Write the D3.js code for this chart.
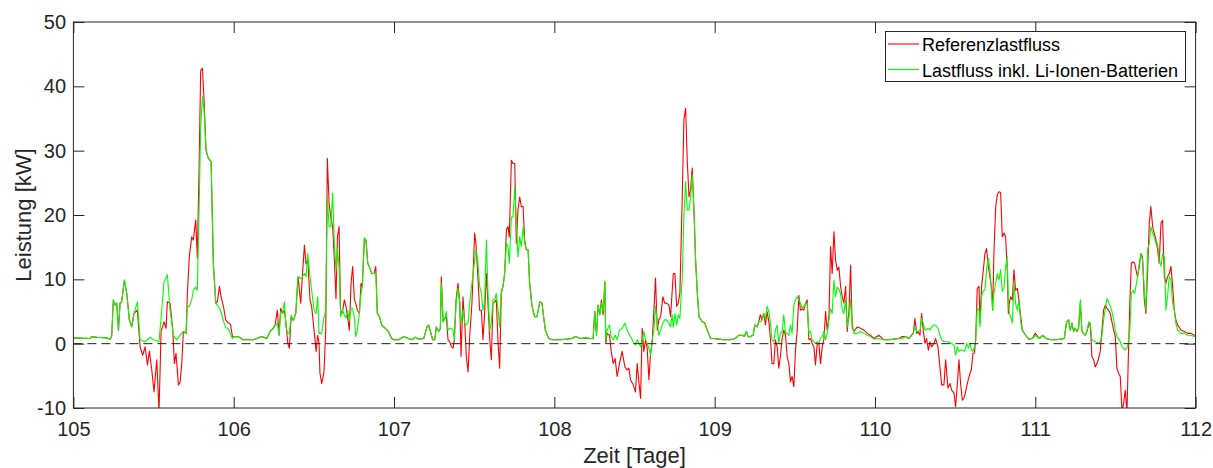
<!DOCTYPE html>
<html>
<head>
<meta charset="utf-8">
<script src="https://cdn.jsdelivr.net/npm/d3@7"></script>
<style>
  body { margin: 0; background: #fff; }
  svg { display: block; font-family: "Liberation Sans", Arial, sans-serif; }
  .axis text { fill: #262626; }
  .axis line { stroke: #262626; }
</style>
</head>
<body>
<svg id="chart" width="1213" height="468"></svg>
<script>
// Zeit in Tagen, Leistung in kW
const referenz = [
  [105.000,0.9],[105.104,0.8],[105.114,1.1],[105.146,1.0],[105.208,0.9],[105.229,0.7],[105.239,1.2],[105.249,6.8],[105.260,6.0],[105.270,6.3],
  [105.281,2.1],[105.291,6.3],[105.301,6.5],[105.318,9.9],[105.333,7.8],[105.349,3.7],[105.364,2.6],[105.378,4.7],[105.399,5.2],[105.416,-0.5],
  [105.432,-1.8],[105.447,-0.5],[105.462,-3.3],[105.474,-1.2],[105.489,-4.1],[105.503,-7.5],[105.520,-2.5],[105.534,-10.5],[105.547,1.9],[105.565,3.4],
  [105.578,2.4],[105.586,6.5],[105.603,6.3],[105.620,2.1],[105.630,-3.1],[105.640,-1.5],[105.655,-6.4],[105.665,-6.1],[105.676,-3.1],[105.686,1.9],
  [105.703,1.6],[105.711,7.8],[105.723,13.5],[105.738,16.6],[105.748,16.1],[105.763,19.2],[105.773,13.3],[105.784,27.5],[105.794,42.5],[105.805,42.8],
  [105.815,37.9],[105.827,30.1],[105.842,28.8],[105.859,28.3],[105.873,12.5],[105.888,6.3],[105.898,6.5],[105.911,8.9],[105.921,7.3],[105.936,5.8],
  [105.950,3.7],[105.967,3.2],[105.980,3.0],[105.992,1.1],[106.000,1.1],
  [106.029,1.1],[106.060,0.6],[106.123,0.6],[106.175,1.1],[106.206,0.8],[106.227,1.9],[106.247,2.4],[106.258,2.9],[106.272,5.2],[106.283,1.3],
  [106.293,5.5],[106.304,4.7],[106.316,5.2],[106.326,3.2],[106.337,0.1],[106.347,-0.7],[106.358,4.2],[106.372,3.6],[106.387,4.7],[106.401,10.4],
  [106.418,6.3],[106.428,10.4],[106.441,15.3],[106.451,12.4],[106.462,13.0],[106.476,6.8],[106.486,5.8],[106.501,2.1],[106.514,-1.2],[106.524,1.3],
  [106.532,0.1],[106.538,-4.6],[106.549,-6.2],[106.563,-4.4],[106.574,2.1],[106.584,28.8],[106.595,21.8],[106.605,19.7],[106.617,18.2],[106.628,13.0],
  [106.638,7.0],[106.647,16.6],[106.657,18.2],[106.667,4.7],[106.680,5.2],[106.690,6.8],[106.701,5.7],[106.711,4.0],[106.721,2.1],[106.732,9.4],
  [106.742,12.0],[106.753,6.8],[106.761,6.3],[106.771,5.2],[106.784,4.7],[106.794,9.4],[106.802,8.8],[106.815,16.4],[106.825,16.1],[106.836,12.5],
  [106.850,11.7],[106.861,10.9],[106.875,10.9],[106.886,12.0],[106.896,4.7],[106.909,4.2],[106.923,2.9],[106.944,2.4],[106.965,1.9],[106.985,0.8],
  [107.000,0.6],
  [107.029,0.6],[107.060,1.1],[107.091,0.8],[107.112,0.6],[107.133,1.0],[107.154,0.7],[107.185,0.8],[107.206,2.6],[107.216,2.9],[107.227,1.9],
  [107.241,0.6],[107.254,0.6],[107.264,2.6],[107.279,1.9],[107.289,2.4],[107.295,10.4],[107.306,3.4],[107.316,3.9],[107.326,4.2],[107.337,0.6],
  [107.347,0.3],[107.358,-0.5],[107.368,-0.7],[107.376,0.6],[107.387,6.8],[107.399,9.4],[107.410,6.3],[107.418,-2.0],[107.430,7.3],[107.441,3.2],
  [107.451,-2.0],[107.462,-4.4],[107.472,1.1],[107.486,6.3],[107.503,17.2],[107.511,15.6],[107.522,10.9],[107.534,5.2],[107.545,5.2],[107.555,0.6],
  [107.565,4.7],[107.576,10.9],[107.586,6.3],[107.597,0.6],[107.607,-2.5],[107.617,6.3],[107.628,6.5],[107.638,6.8],[107.649,0.1],[107.659,-3.8],
  [107.669,7.8],[107.680,8.9],[107.690,10.9],[107.701,17.7],[107.711,18.2],[107.719,16.6],[107.732,28.5],[107.742,28.0],[107.753,28.0],[107.763,15.6],
  [107.773,20.8],[107.784,22.8],[107.794,21.3],[107.805,21.3],[107.815,16.1],[107.825,14.6],[107.836,14.6],[107.846,9.4],[107.861,5.8],[107.877,4.2],
  [107.892,4.2],[107.909,6.5],[107.923,6.3],[107.933,4.2],[107.944,2.1],[107.965,0.8],[107.985,0.6],[108.000,0.6],
  [108.038,0.6],[108.079,0.7],[108.110,0.8],[108.131,1.1],[108.163,0.8],[108.194,0.9],[108.225,0.8],[108.242,0.8],[108.252,5.0],[108.263,1.3],
  [108.273,6.0],[108.283,4.5],[108.294,6.8],[108.304,4.5],[108.315,9.6],[108.321,0.05],[108.329,1.6],[108.344,1.3],[108.354,-1.0],[108.367,-3.1],
  [108.379,-2.3],[108.392,-5.1],[108.406,-3.1],[108.423,-1.2],[108.440,-3.6],[108.454,-4.1],[108.465,-3.8],[108.475,-5.6],[108.492,-6.4],[108.506,-7.5],
  [108.517,-3.1],[108.527,-5.9],[108.538,-8.5],[108.548,2.4],[108.558,-1.2],[108.569,0.6],[108.579,-0.7],[108.590,-5.6],[108.600,-1.5],[108.610,0.05],
  [108.621,5.2],[108.631,10.2],[108.642,2.1],[108.652,3.7],[108.663,4.2],[108.677,7.3],[108.688,6.3],[108.700,6.3],[108.715,6.0],[108.725,4.2],
  [108.742,10.9],[108.752,10.9],[108.763,5.8],[108.773,6.3],[108.783,7.8],[108.798,22.8],[108.808,34.8],[108.819,36.6],[108.829,28.5],[108.840,22.8],
  [108.850,24.0],[108.860,27.3],[108.871,20.8],[108.881,13.0],[108.892,7.8],[108.902,4.2],[108.923,3.4],[108.938,3.2],[108.954,2.1],[108.975,0.8],
  [108.996,0.8],
  [109.025,0.7],[109.056,0.6],[109.098,0.6],[109.129,0.8],[109.150,1.3],[109.171,1.3],[109.185,1.1],[109.198,1.9],[109.208,1.1],[109.223,1.1],
  [109.240,1.3],[109.250,2.9],[109.265,2.6],[109.275,3.4],[109.285,4.5],[109.296,3.7],[109.306,4.7],[109.317,2.9],[109.327,5.0],[109.338,3.4],
  [109.348,0.8],[109.358,-3.1],[109.369,-3.1],[109.379,0.6],[109.390,-0.5],[109.400,-3.8],[109.410,-2.0],[109.421,0.8],[109.431,2.1],[109.442,1.3],
  [109.452,-2.0],[109.463,-3.1],[109.473,-5.9],[109.483,-5.1],[109.494,-6.7],[109.504,-1.0],[109.515,2.1],[109.525,7.5],[109.535,5.2],[109.546,5.4],
  [109.556,5.2],[109.567,6.3],[109.577,6.8],[109.588,0.6],[109.598,0.8],[109.608,0.05],[109.619,-0.5],[109.629,-3.3],[109.640,0.05],[109.650,0.05],
  [109.660,-3.1],[109.671,-0.5],[109.681,0.6],[109.692,5.0],[109.702,2.1],[109.713,4.2],[109.723,15.1],[109.733,10.9],[109.744,17.4],[109.754,13.0],
  [109.765,11.4],[109.775,11.9],[109.785,9.0],[109.796,7.3],[109.806,6.3],[109.817,8.9],[109.827,1.9],[109.838,5.2],[109.848,12.2],[109.858,2.6],
  [109.869,1.9],[109.890,2.6],[109.910,2.4],[109.931,2.1],[109.952,1.6],[109.973,1.3],[109.994,0.8],
  [110.025,1.3],[110.056,0.6],[110.087,0.6],[110.119,0.7],[110.150,0.8],[110.170,1.1],[110.191,1.1],[110.212,0.8],[110.227,1.3],[110.239,1.6],
  [110.249,3.9],[110.260,1.6],[110.270,1.9],[110.281,1.3],[110.291,4.7],[110.301,2.1],[110.312,0.05],[110.322,0.8],[110.333,-1.0],[110.343,0.3],
  [110.353,-0.5],[110.368,0.05],[110.378,0.8],[110.393,-0.5],[110.405,-3.6],[110.416,-6.4],[110.430,-6.4],[110.441,-2.5],[110.455,-6.9],[110.468,-6.2],
  [110.478,-7.2],[110.493,-7.7],[110.503,-9.8],[110.514,-6.2],[110.524,-2.5],[110.534,-6.2],[110.545,-8.8],[110.559,-8.2],[110.572,-6.7],[110.582,-5.6],
  [110.593,-4.6],[110.601,-4.1],[110.611,-1.5],[110.620,-1.5],[110.628,0.6],[110.638,8.6],[110.649,8.9],[110.655,3.2],[110.665,8.9],[110.676,11.5],
  [110.686,14.0],[110.696,14.8],[110.707,12.0],[110.717,10.4],[110.728,8.3],[110.734,5.2],[110.742,14.0],[110.753,21.3],[110.763,23.1],[110.773,23.6],
  [110.784,23.5],[110.794,16.6],[110.805,17.2],[110.815,16.6],[110.825,11.5],[110.832,4.7],[110.838,6.3],[110.846,7.3],[110.857,6.8],[110.867,11.5],
  [110.877,8.3],[110.888,8.6],[110.898,6.8],[110.909,4.2],[110.919,2.1],[110.940,1.3],[110.960,0.7],[110.981,0.8],[111.000,1.6],
  [111.025,0.8],[111.046,1.3],[111.067,0.8],[111.098,0.6],[111.129,0.6],[111.160,0.7],[111.181,0.8],[111.195,3.4],[111.208,3.7],[111.218,2.1],
  [111.229,3.2],[111.239,1.9],[111.249,2.4],[111.260,1.9],[111.270,2.4],[111.281,6.3],[111.291,1.9],[111.301,1.6],[111.312,1.3],[111.322,1.9],
  [111.333,2.9],[111.341,3.2],[111.347,1.3],[111.353,-2.0],[111.364,-2.5],[111.374,-3.6],[111.385,-3.1],[111.395,-2.3],[111.405,-1.2],[111.416,2.1],
  [111.426,5.2],[111.437,6.0],[111.447,5.5],[111.457,5.2],[111.468,4.7],[111.478,3.4],[111.489,2.1],[111.499,1.1],[111.509,-3.8],[111.520,-4.6],
  [111.530,-5.1],[111.541,-10.5],[111.551,-9.3],[111.561,-7.2],[111.572,-10.5],[111.580,-2.5],[111.590,6.3],[111.599,12.5],[111.609,12.7],[111.620,12.5],
  [111.628,11.5],[111.638,10.4],[111.649,12.0],[111.659,14.0],[111.669,13.5],[111.680,6.8],[111.690,4.7],[111.701,11.5],[111.711,18.7],[111.721,21.3],
  [111.732,18.2],[111.742,17.2],[111.753,16.1],[111.763,14.6],[111.773,12.5],[111.784,18.7],[111.794,19.2],[111.805,10.4],[111.815,9.4],[111.825,10.4],
  [111.836,10.9],[111.846,12.0],[111.857,8.9],[111.867,5.2],[111.877,3.7],[111.888,2.9],[111.909,2.1],[111.929,1.9],[111.950,1.6],[111.971,1.6],
  [111.992,1.3],[112.000,1.3]
];

const mitBatterie = [
  [105.000,0.9],[105.104,0.8],[105.114,1.1],[105.146,1.0],[105.208,0.9],[105.229,0.7],[105.239,1.2],[105.249,6.8],[105.260,6.0],[105.270,6.3],
  [105.281,2.1],[105.291,6.3],[105.301,6.5],[105.318,9.9],[105.333,7.8],[105.349,3.7],[105.364,2.6],[105.378,4.7],[105.399,6.5],[105.416,0.6],
  [105.447,0.3],[105.480,1.0],[105.500,0.6],[105.534,0.3],[105.551,5.2],[105.565,9.6],[105.586,10.7],[105.603,5.2],[105.624,1.3],[105.644,0.6],
  [105.665,1.3],[105.686,1.9],[105.703,1.6],[105.711,5.8],[105.723,5.8],[105.738,6.8],[105.748,8.3],[105.763,8.8],[105.773,8.3],[105.784,20.8],
  [105.794,33.7],[105.805,38.4],[105.815,36.3],[105.827,30.1],[105.842,28.8],[105.859,28.3],[105.873,12.5],[105.888,6.3],[105.898,6.0],[105.911,5.5],
  [105.921,5.0],[105.936,3.5],[105.950,2.5],[105.967,2.3],[105.992,0.8],[106.000,1.1],
  [106.029,1.1],[106.060,0.6],[106.123,0.6],[106.175,1.1],[106.206,0.8],[106.227,1.9],[106.247,2.4],[106.258,2.9],[106.272,3.2],[106.283,1.3],
  [106.293,5.0],[106.304,4.7],[106.316,6.5],[106.326,2.6],[106.337,1.6],[106.347,1.6],[106.358,4.4],[106.372,3.6],[106.387,4.7],[106.401,10.4],
  [106.418,10.1],[106.428,10.4],[106.441,10.9],[106.451,10.4],[106.462,14.0],[106.476,10.4],[106.486,8.3],[106.501,5.2],[106.514,4.7],[106.524,7.3],
  [106.532,1.6],[106.549,1.6],[106.563,4.0],[106.574,5.2],[106.584,22.8],[106.595,18.2],[106.605,18.2],[106.617,23.4],[106.628,15.5],[106.638,11.5],
  [106.647,14.8],[106.657,12.0],[106.667,4.2],[106.680,5.2],[106.690,4.4],[106.701,4.0],[106.711,5.2],[106.721,3.6],[106.732,5.5],[106.742,5.5],
  [106.753,4.0],[106.761,1.1],[106.771,2.1],[106.784,4.7],[106.794,7.8],[106.802,8.8],[106.815,16.4],[106.825,16.1],[106.836,12.5],[106.850,11.7],
  [106.861,10.9],[106.875,10.9],[106.886,10.9],[106.896,4.7],[106.909,4.2],[106.923,2.9],[106.944,2.4],[106.965,1.9],[106.985,0.8],[107.000,0.6],
  [107.029,0.6],[107.060,1.1],[107.091,0.8],[107.112,0.6],[107.133,1.0],[107.154,0.7],[107.185,0.8],[107.206,2.6],[107.216,2.9],[107.227,1.9],
  [107.241,0.6],[107.254,0.6],[107.264,2.6],[107.279,1.9],[107.289,2.4],[107.295,9.4],[107.306,3.4],[107.316,3.9],[107.326,5.0],[107.337,2.1],
  [107.347,2.4],[107.358,2.4],[107.368,2.1],[107.376,0.6],[107.387,6.3],[107.399,8.6],[107.410,6.3],[107.418,3.2],[107.430,5.2],[107.441,3.2],
  [107.451,2.9],[107.462,3.2],[107.472,6.3],[107.486,9.4],[107.503,13.0],[107.511,14.6],[107.522,13.0],[107.534,8.9],[107.545,7.8],[107.555,5.2],
  [107.565,6.5],[107.576,16.1],[107.586,8.0],[107.597,2.1],[107.607,3.2],[107.617,6.8],[107.628,6.8],[107.638,7.8],[107.649,5.2],[107.659,2.6],
  [107.669,8.3],[107.680,8.9],[107.690,10.9],[107.701,15.6],[107.711,15.1],[107.719,12.5],[107.732,19.7],[107.742,19.7],[107.753,24.4],[107.763,18.7],
  [107.773,13.5],[107.784,16.6],[107.794,15.1],[107.805,18.2],[107.815,15.6],[107.825,14.6],[107.836,14.6],[107.846,9.4],[107.861,5.8],[107.877,4.2],
  [107.892,4.2],[107.909,6.5],[107.923,6.3],[107.933,4.2],[107.944,2.1],[107.965,0.8],[107.985,0.6],[108.000,0.6],
  [108.038,0.6],[108.079,0.7],[108.110,0.8],[108.131,1.1],[108.163,0.8],[108.194,0.9],[108.225,0.8],[108.242,0.8],[108.252,5.0],[108.263,1.3],
  [108.273,6.0],[108.283,4.5],[108.294,6.3],[108.304,5.0],[108.315,9.6],[108.321,0.6],[108.329,2.1],[108.344,2.9],[108.354,1.1],[108.367,0.6],
  [108.379,1.3],[108.392,0.6],[108.406,2.1],[108.423,2.4],[108.440,3.2],[108.454,2.1],[108.475,1.1],[108.492,0.3],[108.506,-0.2],[108.517,0.6],
  [108.538,-0.5],[108.548,0.6],[108.558,1.9],[108.569,0.6],[108.590,-0.7],[108.600,-1.8],[108.610,0.6],[108.621,2.1],[108.631,5.8],[108.642,3.2],
  [108.652,1.3],[108.663,2.1],[108.677,3.2],[108.688,3.7],[108.700,3.7],[108.715,3.2],[108.725,2.6],[108.735,4.5],[108.742,2.6],[108.752,4.7],
  [108.763,2.9],[108.773,4.5],[108.783,3.9],[108.798,10.4],[108.808,19.7],[108.819,25.2],[108.829,20.8],[108.840,20.8],[108.850,22.8],[108.860,26.2],
  [108.871,20.8],[108.881,13.0],[108.892,7.8],[108.902,4.2],[108.923,3.4],[108.938,3.2],[108.954,2.1],[108.975,0.8],[108.996,0.8],
  [109.025,0.7],[109.056,0.6],[109.098,0.6],[109.129,0.8],[109.150,1.3],[109.171,1.3],[109.185,1.1],[109.198,1.9],[109.208,1.1],[109.223,1.1],
  [109.240,1.3],[109.250,2.9],[109.265,2.6],[109.275,3.4],[109.285,3.4],[109.296,3.7],[109.306,4.7],[109.317,3.9],[109.327,5.8],[109.338,5.0],
  [109.348,3.2],[109.358,0.6],[109.369,0.3],[109.379,2.1],[109.390,2.9],[109.400,0.05],[109.410,1.6],[109.421,1.9],[109.431,4.5],[109.442,1.6],
  [109.452,1.6],[109.463,1.3],[109.473,2.9],[109.483,1.6],[109.494,6.0],[109.504,6.8],[109.515,7.3],[109.525,6.8],[109.535,6.3],[109.546,5.5],
  [109.556,5.7],[109.567,6.3],[109.577,6.3],[109.588,1.6],[109.598,1.9],[109.608,0.6],[109.619,0.3],[109.629,0.05],[109.640,0.3],[109.650,0.05],
  [109.660,0.8],[109.671,1.1],[109.681,1.9],[109.692,0.6],[109.702,1.6],[109.713,3.7],[109.723,5.4],[109.733,4.7],[109.744,9.9],[109.754,7.3],
  [109.765,8.8],[109.775,8.5],[109.785,7.8],[109.796,5.2],[109.806,4.7],[109.817,6.8],[109.827,2.6],[109.838,4.2],[109.848,6.8],[109.858,3.1],
  [109.869,1.6],[109.890,1.6],[109.910,1.9],[109.931,1.6],[109.952,1.3],[109.973,1.1],[109.994,0.7],
  [110.025,0.8],[110.056,0.6],[110.087,0.6],[110.119,0.7],[110.150,0.8],[110.170,0.8],[110.191,1.1],[110.212,0.8],[110.227,1.3],[110.239,1.6],
  [110.249,2.6],[110.260,1.9],[110.270,1.9],[110.281,2.1],[110.291,3.9],[110.301,3.2],[110.312,2.1],[110.333,2.4],[110.343,2.1],[110.353,2.6],
  [110.368,2.9],[110.378,2.9],[110.393,2.4],[110.405,1.3],[110.416,0.6],[110.430,0.3],[110.455,0.3],[110.478,0.05],[110.493,-0.2],[110.503,-1.8],
  [110.514,-0.5],[110.524,-1.2],[110.534,-1.0],[110.545,-1.0],[110.559,-1.2],[110.572,0.05],[110.582,-0.7],[110.593,0.05],[110.601,-1.0],[110.611,-1.2],
  [110.620,-0.5],[110.628,0.3],[110.638,5.5],[110.649,5.2],[110.655,2.6],[110.665,7.3],[110.676,8.3],[110.686,8.3],[110.696,11.5],[110.707,13.3],
  [110.717,11.5],[110.728,7.8],[110.734,5.2],[110.742,7.8],[110.753,9.4],[110.763,10.9],[110.773,9.9],[110.784,11.5],[110.794,8.1],[110.805,8.8],
  [110.815,12.0],[110.825,13.5],[110.832,6.8],[110.838,4.7],[110.846,4.2],[110.857,3.2],[110.867,9.6],[110.877,6.3],[110.888,5.2],[110.898,6.8],
  [110.909,3.4],[110.919,2.1],[110.940,1.3],[110.960,0.7],[110.981,0.8],[111.000,1.3],
  [111.025,0.8],[111.046,1.3],[111.067,0.8],[111.098,0.6],[111.129,0.6],[111.160,0.7],[111.181,0.8],[111.195,3.4],[111.208,3.7],[111.218,2.1],
  [111.229,3.2],[111.239,1.9],[111.249,2.4],[111.260,1.9],[111.270,2.4],[111.281,6.8],[111.291,1.9],[111.301,1.6],[111.312,1.3],[111.322,1.9],
  [111.333,3.4],[111.341,3.2],[111.347,2.1],[111.353,0.6],[111.374,0.3],[111.395,0.05],[111.405,0.3],[111.416,1.3],[111.426,3.7],[111.437,5.5],
  [111.447,7.0],[111.457,6.5],[111.468,5.8],[111.478,5.0],[111.489,3.7],[111.499,2.1],[111.509,1.1],[111.520,0.8],[111.530,0.3],[111.541,-0.5],
  [111.551,-0.7],[111.561,-1.0],[111.572,-0.7],[111.580,0.05],[111.590,2.1],[111.599,7.8],[111.609,8.3],[111.620,7.8],[111.628,8.9],[111.638,10.4],
  [111.649,12.5],[111.659,14.0],[111.669,13.0],[111.680,8.3],[111.690,5.2],[111.701,14.6],[111.711,15.6],[111.721,18.2],[111.732,17.2],[111.742,16.6],
  [111.753,15.6],[111.763,15.6],[111.773,13.0],[111.784,12.0],[111.794,14.0],[111.805,13.5],[111.815,5.2],[111.825,7.3],[111.836,10.4],[111.846,9.9],
  [111.857,6.3],[111.867,5.2],[111.877,3.2],[111.888,2.1],[111.909,1.6],[111.929,1.6],[111.950,1.3],[111.971,1.3],[111.992,1.1],[112.000,1.3]
];

const xTicks = [105, 106, 107, 108, 109, 110, 111, 112];
const yTicks = [-10, 0, 10, 20, 30, 40, 50];
const legendNames = ["Referenzlastfluss", "Lastfluss inkl. Li-Ionen-Batterien"];
const colors = ["#ff0000", "#00ff00"];

const plotLeft = 73.4, plotRight = 1195.6, plotTop = 22, plotBottom = 408;

const svg = d3.select("#chart");
const x = d3.scaleLinear().domain([105, 112]).range([plotLeft, plotRight]);
const y = d3.scaleLinear().domain([-10, 50]).range([plotBottom, plotTop]);

svg.append("defs").append("clipPath").attr("id", "plotclip")
  .append("rect")
  .attr("x", plotLeft).attr("y", plotTop)
  .attr("width", plotRight - plotLeft).attr("height", plotBottom - plotTop);

// axes (ticks inward, like matlab), plain hyphen for negatives
const tick = 11;
const fmt = d => String(d);
svg.append("g").attr("class", "axis")
  .attr("transform", `translate(0,${plotBottom})`)
  .call(d3.axisBottom(x).tickValues(xTicks).tickSize(-tick).tickPadding(13.5).tickFormat(fmt))
  .call(g => g.select(".domain").remove())
  .selectAll("text").attr("font-size", 20);

svg.append("g").attr("class", "axis")
  .attr("transform", `translate(0,${plotTop})`)
  .call(d3.axisTop(x).tickValues(xTicks).tickSize(-tick).tickFormat(""))
  .call(g => g.select(".domain").remove());

svg.append("g").attr("class", "axis")
  .attr("transform", `translate(${plotLeft},0)`)
  .call(d3.axisLeft(y).tickValues(yTicks).tickSize(-tick).tickPadding(7.4).tickFormat(fmt))
  .call(g => g.select(".domain").remove())
  .selectAll("text").attr("font-size", 20);

svg.append("g").attr("class", "axis")
  .attr("transform", `translate(${plotRight},0)`)
  .call(d3.axisRight(y).tickValues(yTicks).tickSize(-tick).tickFormat(""))
  .call(g => g.select(".domain").remove());

svg.selectAll(".axis text").attr("font-family", "Liberation Sans, Arial, sans-serif");
svg.selectAll(".axis .tick line").attr("stroke-width", 1);

// lines
const line = d3.line().x(d => x(d[0])).y(d => y(d[1]));
const plot = svg.append("g").attr("clip-path", "url(#plotclip)");

[referenz, mitBatterie].forEach((s, i) => {
  plot.append("path")
    .datum(s)
    .attr("fill", "none")
    .attr("stroke", colors[i])
    .attr("stroke-width", 1.1)
    .attr("stroke-linejoin", "round")
    .attr("d", line);
});

// zero line
plot.append("line")
  .attr("x1", x(105)).attr("x2", x(112))
  .attr("y1", y(0)).attr("y2", y(0))
  .attr("stroke", "#222")
  .attr("stroke-width", 1)
  .attr("stroke-dasharray", "9,5");

// box
svg.append("rect")
  .attr("x", plotLeft).attr("y", plotTop)
  .attr("width", plotRight - plotLeft).attr("height", plotBottom - plotTop)
  .attr("fill", "none")
  .attr("stroke", "#262626")
  .attr("stroke-width", 1);

// labels
svg.append("text")
  .attr("x", (plotLeft + plotRight) / 2).attr("y", 463)
  .attr("text-anchor", "middle")
  .attr("font-size", 22)
  .attr("fill", "#262626")
  .text("Zeit [Tage]");

svg.append("text")
  .attr("transform", `translate(31,${(plotTop + plotBottom) / 2}) rotate(-90)`)
  .attr("text-anchor", "middle")
  .attr("font-size", 22)
  .attr("fill", "#262626")
  .text("Leistung [kW]");

// legend
const lg = svg.append("g");
lg.append("rect")
  .attr("x", 885.5).attr("y", 31.5)
  .attr("width", 300).attr("height", 50)
  .attr("fill", "#fff")
  .attr("stroke", "#262626")
  .attr("stroke-width", 1);

legendNames.forEach((name, i) => {
  const ly = 44 + i * 25.5;
  lg.append("line")
    .attr("x1", 888).attr("x2", 919)
    .attr("y1", ly).attr("y2", ly)
    .attr("stroke", colors[i])
    .attr("stroke-width", 1.1);
  lg.append("text")
    .attr("x", 922).attr("y", ly + 7)
    .attr("font-size", 18)
    .attr("fill", "#000")
    .text(name);
});
</script>
</body>
</html>
